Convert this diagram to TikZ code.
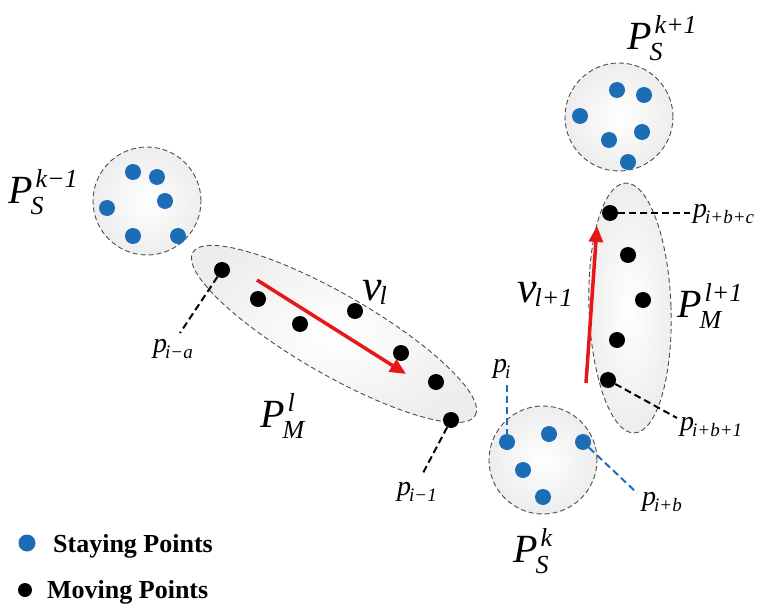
\documentclass[tikz,border=0pt]{standalone}
\usepackage{fontspec}
\setmainfont{Liberation Serif}
\usetikzlibrary{arrows.meta,shapes.geometric}
\definecolor{sblue}{RGB}{28,108,182}
\definecolor{mred}{RGB}{232,22,22}
\newcommand{\glab}[7]{%
 {\fontsize{#4}{#4}\selectfont\itshape #1}%
 {\fontsize{#5}{#5}\selectfont\itshape
 \makebox[0pt][l]{\kern-2pt\raisebox{-#7}{#2}}%
 \kern3pt\raisebox{#6}{#3}}}
\tikzset{
 grp/.style={draw=black!70, dash pattern=on 5pt off 3pt, line width=0.9pt, inner color=white, outer color=black!7},
 sdot/.style={circle, fill=sblue, inner sep=0pt, minimum size=16pt},
 mdot/.style={circle, fill=black, inner sep=0pt, minimum size=16pt},
 lead/.style={dash pattern=on 7pt off 4pt, line width=2pt},
 blead/.style={lead, draw=sblue},
 vel/.style={draw=mred, line width=3.5pt, -{Triangle[length=16pt,width=14pt]}},
 lbl/.style={inner sep=0pt, anchor=base west},
 legtext/.style={inner sep=0pt, anchor=base west, font=\fontsize{26pt}{26pt}\selectfont\bfseries},
}
\begin{document}
\begin{tikzpicture}[x=1pt,y=-1pt]
\useasboundingbox (0,0) rectangle (763,610);
% groups
\node[grp, circle, minimum size=108pt] (S1) at (147,201) {};
\node[grp, circle, minimum size=108pt] (S2) at (543,460) {};
\node[grp, circle, minimum size=108pt] (S3) at (619,117) {};
\node[grp, ellipse, minimum width=326pt, minimum height=80pt, rotate=-30] (M1) at (334,334) {};
\node[grp, ellipse, minimum width=82pt, minimum height=250pt, rotate=2] (M2) at (630,308) {};
% staying points k-1
\node[sdot] (s11) at (133,172) {};
\node[sdot] (s12) at (157,177) {};
\node[sdot] (s13) at (107,208) {};
\node[sdot] (s14) at (165,201) {};
\node[sdot] (s15) at (133,236) {};
\node[sdot] (s16) at (178,236) {};
% staying points k
\node[sdot] (b1) at (507,442) {};
\node[sdot] (b2) at (549,434) {};
\node[sdot] (b3) at (583,442) {};
\node[sdot] (b4) at (523,470) {};
\node[sdot] (b5) at (543,497) {};
% staying points k+1
\node[sdot] (s31) at (617,90) {};
\node[sdot] (s32) at (644,95) {};
\node[sdot] (s33) at (580,116) {};
\node[sdot] (s34) at (642,132) {};
\node[sdot] (s35) at (609,140) {};
\node[sdot] (s36) at (628,162) {};
% moving points l
\node[mdot] (a1) at (222,270) {};
\node[mdot] (a2) at (258,299) {};
\node[mdot] (a3) at (300,324) {};
\node[mdot] (a4) at (355,311) {};
\node[mdot] (a5) at (401,353) {};
\node[mdot] (a6) at (436,382) {};
\node[mdot] (a7) at (451,420) {};
% moving points l+1
\node[mdot] (c1) at (610,213) {};
\node[mdot] (c2) at (628,255) {};
\node[mdot] (c3) at (643,300) {};
\node[mdot] (c4) at (617,340) {};
\node[mdot] (c5) at (608,380) {};
% velocity arrows
\coordinate (v1s) at (257,280);
\coordinate (v1e) at (406,374);
\coordinate (v2s) at (586,383);
\coordinate (v2e) at (597,226);
\draw[vel] (v1s) -- (v1e);
\draw[vel] (v2s) -- (v2e);
% leader lines
\coordinate (la) at (180,333);
\coordinate (lb) at (423,473);
\coordinate (lc) at (507,385);
\coordinate (ld) at (637,493);
\coordinate (le) at (690,213);
\coordinate (lf) at (677,418);
\draw[lead] (a1) -- (la);
\draw[lead] (a7) -- (lb);
\draw[blead] (lc) -- (b1);
\draw[blead] (b3) -- (ld);
\draw[lead] (c1) -- (le);
\draw[lead] (c5) -- (lf);
% labels
\node[lbl] (LS1) at (8,203) {\glab{P}{S}{k−1}{40pt}{26pt}{16pt}{11pt}};
\node[lbl] (LS2) at (513,562) {\glab{P}{S}{k}{40pt}{26pt}{16pt}{11pt}};
\node[lbl] (LS3) at (627,50) {\glab{P}{S}{k+1}{40pt}{26pt}{16pt}{11pt}};
\node[lbl] (LM1) at (260,427) {\glab{P}{M}{l}{40pt}{26pt}{16pt}{11pt}};
\node[lbl] (LM2) at (677,317) {\glab{P}{M}{l+1}{40pt}{26pt}{16pt}{11pt}};
\node[lbl] (LV1) at (362,300) {\glab{v}{l}{}{44pt}{26pt}{0pt}{4pt}};
\node[lbl] (LV2) at (517,302) {\glab{v}{l+1}{}{44pt}{26pt}{0pt}{4pt}};
\node[lbl] (Lpa) at (153,352) {\glab{p}{i−a}{}{28pt}{19pt}{0pt}{6pt}};
\node[lbl] (Lpb) at (397,495) {\glab{p}{i−1}{}{28pt}{19pt}{0pt}{6pt}};
\node[lbl] (Lpc) at (493,372) {\glab{p}{i}{}{28pt}{19pt}{0pt}{6pt}};
\node[lbl] (Lpd) at (642,505) {\glab{p}{i+b}{}{28pt}{19pt}{0pt}{6pt}};
\node[lbl] (Lpe) at (693,217) {\glab{p}{i+b+c}{}{28pt}{19pt}{0pt}{6pt}};
\node[lbl] (Lpf) at (680,430) {\glab{p}{i+b+1}{}{28pt}{19pt}{0pt}{6pt}};
% legend
\node[sdot, minimum size=17pt] (legs) at (27,543) {};
\node[mdot, minimum size=14pt] (legm) at (25,590) {};
\node[legtext] (legst) at (53,552) {Staying Points};
\node[legtext] (legmt) at (47,598) {Moving Points};
\end{tikzpicture}
\end{document}
